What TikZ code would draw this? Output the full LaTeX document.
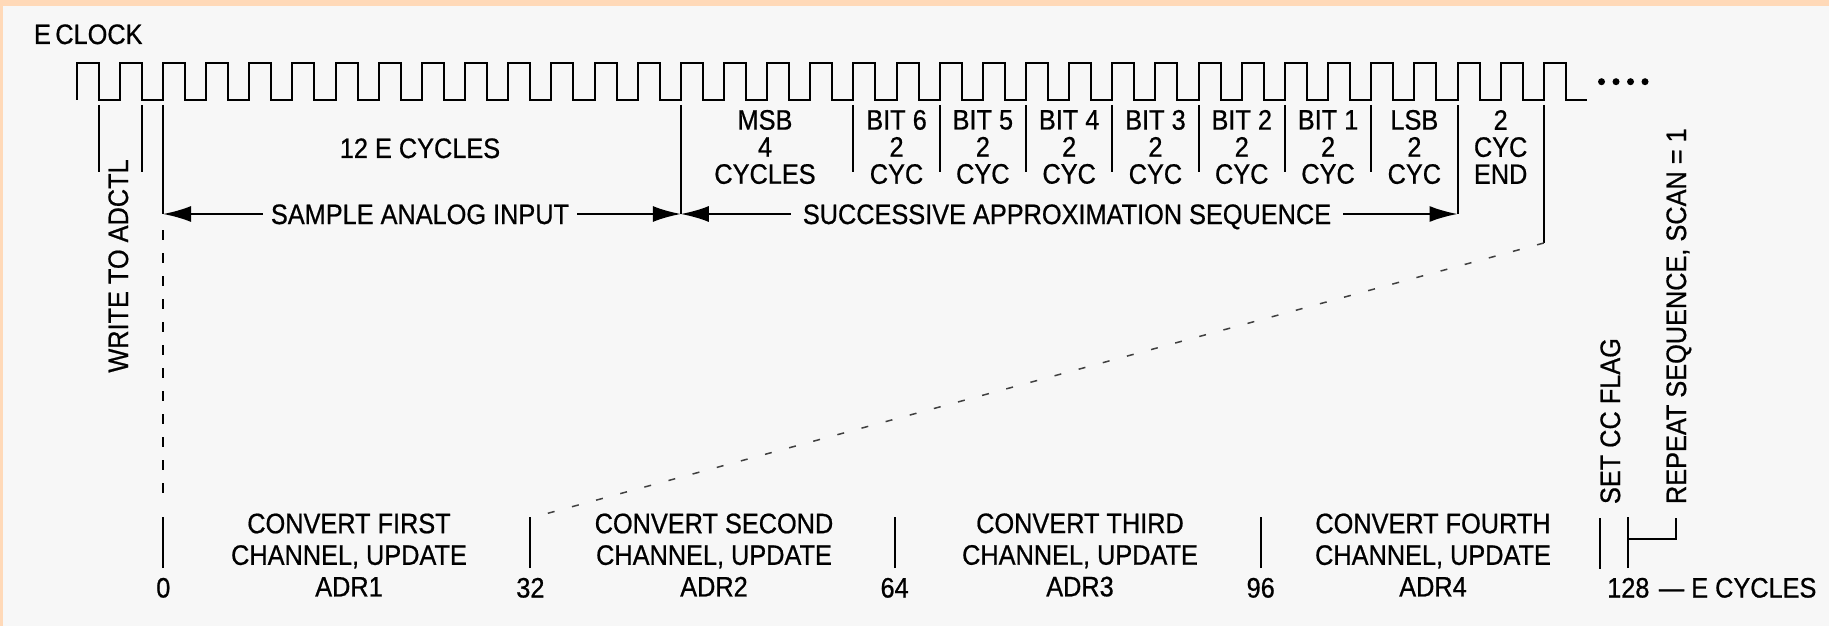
\documentclass[tikz,border=0pt]{standalone}
\usepackage{fontspec}
\setmainfont{Liberation Sans}[FakeStretch=0.9, FakeBold=0.7]
\usepackage{tikz}
\usetikzlibrary{arrows.meta, positioning}
\usepackage{xcolor}
\definecolor{peach}{RGB}{255,217,184}
\definecolor{paper}{RGB}{247,247,247}

\begin{document}
\begin{tikzpicture}[x=0.1mm, y=-0.1mm, line width=0.2mm, every node/.style={font=\fontsize{8}{7.7}\selectfont, inner sep=0pt}]
  % 样式
  \tikzstyle{lbl}=[text height=2mm, text depth=0pt]
  \tikzstyle{bitlbl}=[align=center]
  \tikzstyle{convlbl}=[align=center, font=\fontsize{8}{9}\selectfont]
  \tikzstyle{vert}=[lbl, rotate=90, anchor=west, inner sep=1.3mm]
  \tikzstyle{arrow}=[-{Latex[length=2.8mm, width=1.6mm]}]
  \tikzstyle{dline}=[dash pattern=on 1mm off 1.3mm]
  \tikzstyle{diag}=[line width=0.15mm, black!75, dash pattern=on 0.7mm off 1.8mm]

  % 背景
  \fill[peach] (0,0) rectangle (1829,626);
  \fill[paper] (3,6) rectangle (1829,626);
  \useasboundingbox (0,0) rectangle (1829,626);

  % 时钟
  \node (eclk) [lbl, anchor=base west] at (33,44) {E\kern0.45mm CLOCK};
  \draw (76.7,100) \foreach \k in {-2,...,32} { -- ++(0,-36.7) -- ++(22,0) -- ++(0,36.7) -- ++(21.15,0) };
  \foreach \i in {0,...,3} \fill (1601.5+14.5*\i,81.7) circle (0.35mm);

  % 时刻
  \coordinate (s0) at (163,214);
  \coordinate (s12) at (680.8,214);
  \coordinate (s30) at (1457.5,214);
  \coordinate (s32) at (1543.8,243);
  \coordinate (b32) at (530.4,518);

  \draw (98.7,105) -- (98.7,172);
  \draw (141.9,105) -- (141.9,172);
  \draw (163,105) -- (s0);
  \draw (680.8,105) -- (s12);
  \foreach \k in {16,18,...,28} \draw ({163+43.15*\k},105) -- ++(0,67);
  \draw (1457.5,105) -- (s30);
  \draw (1543.8,105) -- (s32);

  % 上方标签
  \node (write) [lbl, rotate=90] at (118,266) {WRITE TO ADCTL};
  \node (cyc12) [lbl] at (420,148) {12 E CYCLES};
  \node (msb) [bitlbl] at (765,147) {MSB\\4\\CYCLES};
  \foreach \b [count=\i] in {6,...,1}
    \node (bit\b) [bitlbl] at ({163+43.15*(15+2*\i)},147) {BIT \b\\2\\CYC};
  \node (lsb) [bitlbl] at ({163+43.15*29},147) {LSB\\2\\CYC};
  \node (cycend) [bitlbl] at ({163+43.15*31},147) {2\\CYC\\END};

  % 箭头
  \node (sample) [lbl, inner xsep=0.7mm] at (420,214) {SAMPLE ANALOG INPUT};
  \node (seq) [lbl, inner xsep=1.1mm] at (1067,214) {SUCCESSIVE APPROXIMATION SEQUENCE};
  \draw[arrow] (sample) -- (s0);
  \draw[arrow] (sample) -- (s12);
  \draw[arrow] (seq) -- (s12);
  \draw[arrow] (seq) -- (s30);

  % 虚线
  \draw[dline] (163,230) -- (163,498);
  \draw[diag] (s32) -- (b32);

  % 底部
  \foreach \n/\x in {0/163.3, 32/530.4, 64/894.6, 96/1260.7, 128/1628.3}
    \node (n\n) [lbl, inner ysep=0.85mm] at (\x,587.5) {\n};
  \foreach \n in {0,32,64,96,128} \draw (n\n.north) -- ++(0,-51);
  \node (ecyc) [lbl, right=0.75mm of n128] {— E CYCLES};

  \node (conv1) [convlbl] at (349,555) {CONVERT FIRST\\CHANNEL, UPDATE\\ADR1};
  \node (conv2) [convlbl] at (714,555) {CONVERT SECOND\\CHANNEL, UPDATE\\ADR2};
  \node (conv3) [convlbl] at (1080,555) {CONVERT THIRD\\CHANNEL, UPDATE\\ADR3};
  \node (conv4) [convlbl] at (1433,555) {CONVERT FOURTH\\CHANNEL, UPDATE\\ADR4};

  \node (setcc) [vert] at (1610,518) {SET CC FLAG};
  \node (repeat) [vert] at (1676,518) {REPEAT SEQUENCE, SCAN = 1};
  \draw ([xshift=-1mm]setcc.west) -- ++(0,51);
  \draw (n128.north) ++(0,-29) -| (repeat.west);
\end{tikzpicture}
\end{document}
